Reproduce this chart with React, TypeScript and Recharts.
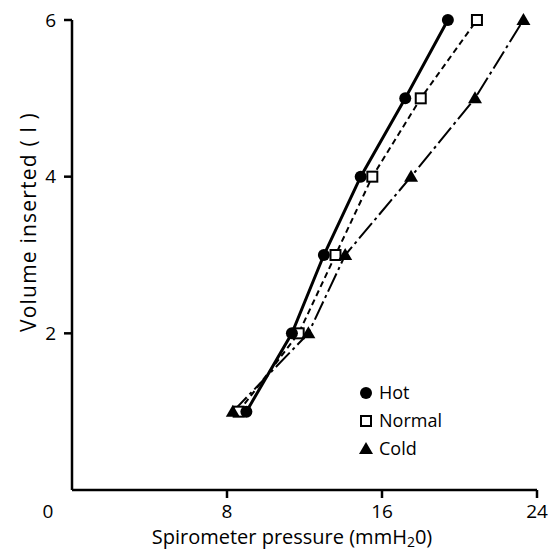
import { Line, LineChart, XAxis, YAxis } from "recharts";

const volumes = [1, 2, 3, 4, 5, 6];
const hotPressure = [9.0, 11.35, 13.0, 14.9, 17.2, 19.4];
const normalPressure = [8.6, 11.7, 13.6, 15.5, 18.0, 20.9];
const coldPressure = [8.3, 12.2, 14.1, 17.5, 20.8, 23.3];
const xTicks = [0, 8, 16, 24];
const yTicks = [2, 4, 6];

const FONT = "'Open Sans', sans-serif";

const toPoints = (p: number[]) => p.map((x, i) => ({ x, y: volumes[i] }));

const hot = toPoints(hotPressure);
const normal = toPoints(normalPressure);
const cold = toPoints(coldPressure);

type Shape = "circle" | "square" | "triangle";

function Marker({ cx, cy, shape }: { cx: number; cy: number; shape: Shape }) {
  if (cx == null || cy == null) return null;
  if (shape === "circle") return <circle cx={cx} cy={cy} r={6} fill="#000" />;
  if (shape === "square")
    return (
      <rect x={cx - 5} y={cy - 5} width={10} height={10} fill="#fff" stroke="#000" strokeWidth={2} />
    );
  return <path d={`M${cx},${cy - 7} L${cx + 7},${cy + 5} L${cx - 7},${cy + 5} Z`} fill="#000" />;
}

const dotFor = (shape: Shape) => (props: any) => (
  <Marker key={`${shape}-${props.index}`} cx={props.cx} cy={props.cy} shape={shape} />
);

// the 0 sits at the origin corner, no tick mark under it
function XTick(props: any) {
  const { x, y, payload } = props;
  const v = payload.value;
  return (
    <g>
      {v !== 0 && <line x1={x} y1={y - 14} x2={x} y2={y - 6} stroke="#000" strokeWidth={2.5} />}
      <text
        x={v === 0 ? x - 24 : x}
        y={y + 14}
        textAnchor="middle"
        fontFamily={FONT}
        fontSize={19}
        fill="#000"
      >
        {v}
      </text>
    </g>
  );
}

const legendItems: { name: string; shape: Shape }[] = [
  { name: "Hot", shape: "circle" },
  { name: "Normal", shape: "square" },
  { name: "Cold", shape: "triangle" },
];

function LegendBox() {
  return (
    <svg
      width={110}
      height={90}
      style={{ position: "absolute", left: 355, top: 380 }}
    >
      {legendItems.map((it, i) => (
        <g key={it.name}>
          <Marker cx={11} cy={13 + i * 28} shape={it.shape} />
          <text x={24} y={19 + i * 28} fontFamily={FONT} fontSize={18} fill="#000">
            {it.name}
          </text>
        </g>
      ))}
    </svg>
  );
}

export default function App() {
  return (
    <div style={{ position: "absolute", left: 0, top: 0, width: 549, height: 552 }}>
      <LineChart width={549} height={552} margin={{ top: 20, right: 12, bottom: 12, left: 0 }}>
        <XAxis
          type="number"
          dataKey="x"
          domain={[0, 24]}
          ticks={xTicks}
          height={50}
          tickLine={false}
          tickSize={8}
          tickMargin={6}
          axisLine={{ stroke: "#000", strokeWidth: 2.5 }}
          tick={<XTick />}
          label={{
            content: () => (
              <text x={292} y={544} textAnchor="middle" fontFamily={FONT} fontSize={20} fill="#000">
                Spirometer pressure (mmH
                <tspan dy={3} fontSize={14}>2</tspan>
                <tspan dy={-3}>0)</tspan>
              </text>
            ),
          }}
        />
        <YAxis
          type="number"
          dataKey="y"
          domain={[0, 6]}
          ticks={yTicks}
          width={72}
          tickSize={8}
          tickMargin={8}
          tickLine={{ stroke: "#000", strokeWidth: 2.5 }}
          axisLine={{ stroke: "#000", strokeWidth: 2.5 }}
          tick={{ fill: "#000", fontFamily: FONT, fontSize: 19 }}
          label={{
            content: () => (
              <text
                x={28}
                y={222}
                transform="rotate(-90, 28, 222)"
                textAnchor="middle"
                dominantBaseline="central"
                fontFamily={FONT}
                fontSize={21}
                letterSpacing={1.2}
                fill="#000"
              >
                Volume inserted ( l )
              </text>
            ),
          }}
        />
        <Line
          data={normal}
          dataKey="y"
          stroke="#000"
          strokeWidth={2}
          strokeDasharray="6 4"
          dot={dotFor("square")}
          isAnimationActive={false}
        />
        <Line
          data={cold}
          dataKey="y"
          stroke="#000"
          strokeWidth={2}
          strokeDasharray="20 4 3 4"
          dot={dotFor("triangle")}
          isAnimationActive={false}
        />
        <Line
          data={hot}
          dataKey="y"
          stroke="#000"
          strokeWidth={3}
          dot={dotFor("circle")}
          isAnimationActive={false}
        />
      </LineChart>
      <LegendBox />
    </div>
  );
}
